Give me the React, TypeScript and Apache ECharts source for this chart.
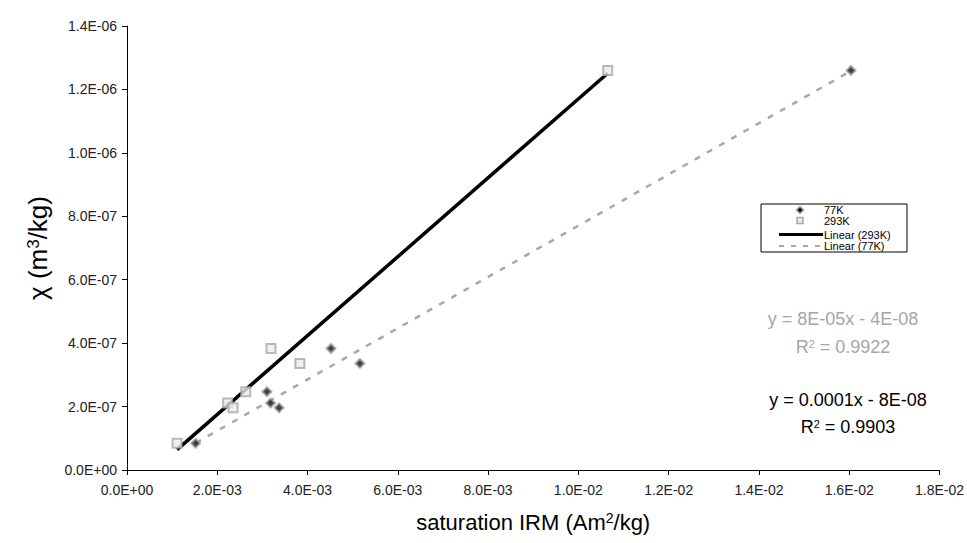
import React, { useEffect, useRef } from "react";
import * as echarts from "echarts";

// χ values (m³/kg), shared by both temperatures
const chi = [8.4e-8, 2.47e-7, 2.11e-7, 1.96e-7, 3.83e-7, 3.36e-7, 1.26e-6];
// saturation IRM (Am²/kg)
const irm293K = [1.11e-3, 2.63e-3, 2.23e-3, 2.35e-3, 3.19e-3, 3.83e-3, 1.065e-2];
const irm77K = [1.52e-3, 3.1e-3, 3.18e-3, 3.37e-3, 4.52e-3, 5.16e-3, 1.604e-2];

const seriesNames = ["77K", "293K", "Linear (293K)", "Linear (77K)"];
const eq77 = ["y = 8E-05x - 4E-08", "R{s|2} = 0.9922"];
const eq293 = ["y = 0.0001x - 8E-08", "R{s|2} = 0.9903"];

const FONT = "Liberation Sans, Arial, sans-serif";

function fit(xs: number[], ys: number[]) {
  const n = xs.length;
  const mx = xs.reduce((a, b) => a + b, 0) / n;
  const my = ys.reduce((a, b) => a + b, 0) / n;
  let sxy = 0, sxx = 0;
  for (let i = 0; i < n; i++) {
    sxy += (xs[i] - mx) * (ys[i] - my);
    sxx += (xs[i] - mx) * (xs[i] - mx);
  }
  const m = sxy / sxx;
  const b = my - m * mx;
  const x0 = Math.min(...xs), x1 = Math.max(...xs);
  return [[x0, m * x0 + b], [x1, m * x1 + b]];
}

function fmtExp(v: number) {
  const [mant, e] = v.toExponential(1).split("e");
  const sign = e[0] === "-" ? "-" : "+";
  const digits = e.replace(/^[+-]/, "").padStart(2, "0");
  return `${mant}E${sign}${digits}`;
}

export default function App() {
  const ref = useRef<HTMLDivElement>(null);
  useEffect(() => {
    if (!ref.current) return;
    const chart = echarts.init(ref.current, null, { renderer: "svg" });
    const s293 = irm293K.map((x, i) => [x, chi[i]]);
    const s77 = irm77K.map((x, i) => [x, chi[i]]);
    const lx = 779, lx2 = 823;
    chart.setOption({
      animation: false,
      backgroundColor: "#ffffff",
      textStyle: { fontFamily: FONT },
      grid: { left: 127, right: 25, top: 26, bottom: 73 },
      xAxis: {
        type: "value",
        min: 0,
        max: 0.018,
        interval: 0.002,
        name: "saturation IRM (Am{s|2}/kg)",
        nameLocation: "middle",
        nameGap: 41,
        nameTextStyle: {
          fontSize: 22,
          color: "#000",
          fontFamily: FONT,
          rich: { s: { fontSize: 14, verticalAlign: "top", color: "#000", fontFamily: FONT } },
        },
        splitLine: { show: false },
        axisLine: { lineStyle: { color: "#000", width: 1 } },
        axisTick: { show: true, length: 5, lineStyle: { color: "#000" } },
        axisLabel: { formatter: fmtExp, fontSize: 14, color: "#222", margin: 13, fontFamily: FONT },
      },
      yAxis: {
        type: "value",
        min: 0,
        max: 1.4e-6,
        interval: 2e-7,
        name: "χ (m{s|3}/kg)",
        nameLocation: "middle",
        nameGap: 76,
        nameTextStyle: {
          fontSize: 26,
          color: "#000",
          fontFamily: FONT,
          rich: { s: { fontSize: 17, verticalAlign: "top", color: "#000", fontFamily: FONT } },
        },
        splitLine: { show: false },
        axisLine: { show: true, lineStyle: { color: "#000", width: 1 } },
        axisTick: { show: true, length: 5, lineStyle: { color: "#000" } },
        axisLabel: { formatter: fmtExp, fontSize: 14, color: "#222", margin: 10, fontFamily: FONT },
      },
      series: [
        {
          name: seriesNames[2],
          type: "line",
          data: fit(irm293K, chi),
          showSymbol: false,
          lineStyle: { color: "#000", width: 3.5 },
          z: 3,
        },
        {
          name: seriesNames[3],
          type: "line",
          data: fit(irm77K, chi),
          showSymbol: false,
          lineStyle: { color: "#a8a8a8", width: 2.5, type: [6, 8] },
          z: 3,
        },
        {
          name: seriesNames[1],
          type: "scatter",
          data: s293,
          symbol: "rect",
          symbolSize: 9,
          itemStyle: { color: "#ececec", borderColor: "#a8a8a8", borderWidth: 2 },
          z: 4,
        },
        {
          name: seriesNames[0],
          type: "scatter",
          data: s77,
          symbol: "diamond",
          symbolSize: 9,
          itemStyle: { color: "#111", borderColor: "#a0a0a0", borderWidth: 2 },
          z: 5,
        },
      ],
      graphic: [
        {
          type: "rect",
          shape: { x: 761, y: 204, width: 146, height: 48 },
          style: { fill: "#fff", stroke: "#000", lineWidth: 1 },
          z: 10,
        },
        {
          type: "polygon",
          shape: { points: [[800, 206.5], [803.5, 210], [800, 213.5], [796.5, 210]] },
          style: { fill: "#111", stroke: "#a0a0a0", lineWidth: 1.5 },
          z: 11,
        },
        {
          type: "rect",
          shape: { x: 797, y: 217.5, width: 6, height: 6 },
          style: { fill: "#ececec", stroke: "#a8a8a8", lineWidth: 1.5 },
          z: 11,
        },
        {
          type: "line",
          shape: { x1: lx, y1: 234.5, x2: lx2, y2: 234.5 },
          style: { stroke: "#000", lineWidth: 3 },
          z: 11,
        },
        {
          type: "line",
          shape: { x1: lx, y1: 246, x2: lx2, y2: 246 },
          style: { stroke: "#a8a8a8", lineWidth: 2, lineDash: [5, 7] },
          z: 11,
        },
        ...seriesNames.map((n, i) => ({
          type: "text",
          x: 824,
          y: [210, 221, 234.5, 246][i],
          style: { text: n, fontSize: 11, fill: "#000", fontFamily: FONT, verticalAlign: "middle", align: "left" },
          z: 11,
        })),
        ...eq77.map((t, i) => ({
          type: "text",
          x: 843,
          y: [319, 347][i],
          style: {
            text: t,
            fontSize: 18,
            fill: "#a6a6a6",
            fontFamily: FONT,
            align: "center",
            verticalAlign: "middle",
            rich: { s: { fontSize: 11, verticalAlign: "top", fill: "#a6a6a6", fontFamily: FONT } },
          },
          z: 11,
        })),
        ...eq293.map((t, i) => ({
          type: "text",
          x: 848,
          y: [400, 427][i],
          style: {
            text: t,
            fontSize: 18,
            fill: "#000",
            fontFamily: FONT,
            align: "center",
            verticalAlign: "middle",
            rich: { s: { fontSize: 11, verticalAlign: "top", fill: "#000", fontFamily: FONT } },
          },
          z: 11,
        })),
      ],
    });
    return () => chart.dispose();
  }, []);
  return <div ref={ref} style={{ width: 967, height: 543, position: "absolute", left: 0, top: 0 }} />;
}
